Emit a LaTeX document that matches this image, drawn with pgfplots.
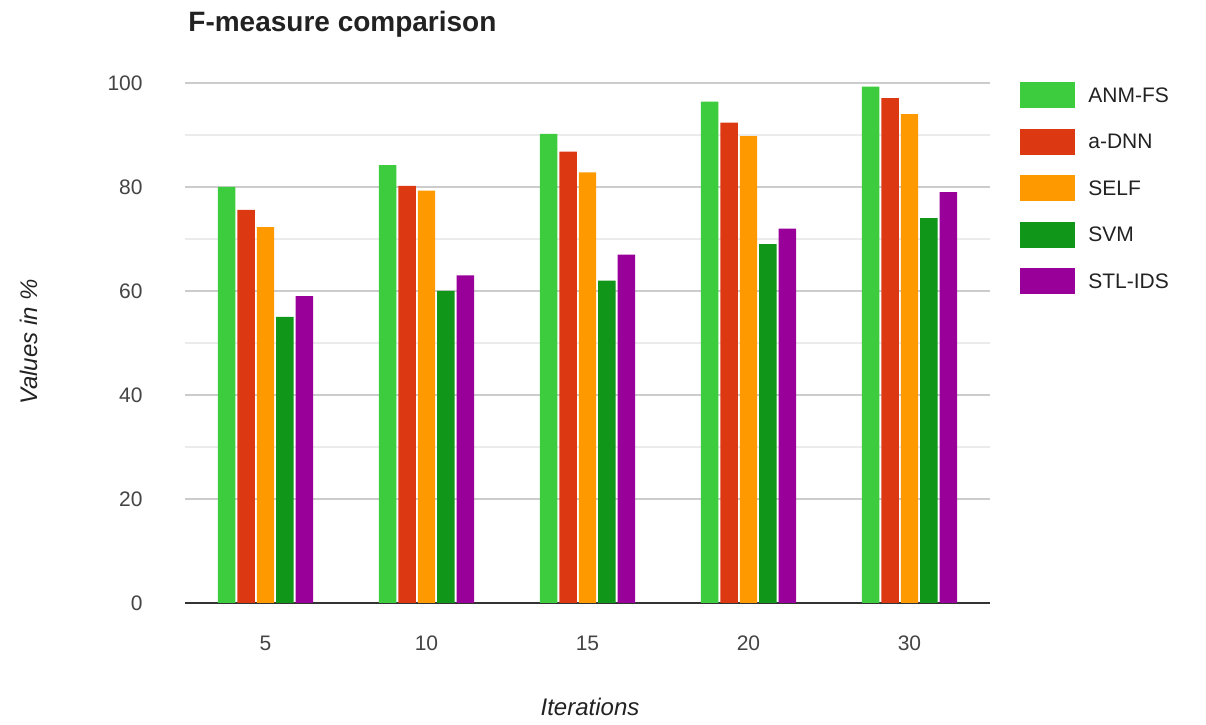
\documentclass[border=0pt]{standalone}
\usepackage{pgfplots}
\pgfplotsset{compat=1.18}
\usepackage{fontspec}
\setmainfont{Liberation Sans}

\definecolor{cANM}{HTML}{3DCC3D}
\definecolor{cDNN}{HTML}{DC3912}
\definecolor{cSELF}{HTML}{FF9900}
\definecolor{cSVM}{HTML}{109618}
\definecolor{cSTL}{HTML}{990099}
\definecolor{tickgray}{HTML}{444444}
\definecolor{labelgray}{HTML}{222222}
\definecolor{gridmajor}{HTML}{CCCCCC}
\definecolor{gridminor}{HTML}{EBEBEB}
\definecolor{baseline}{HTML}{333333}

\begin{document}
\begin{tikzpicture}
\path[use as bounding box] (0,0) rectangle (603pt,362pt);

% chart title
\node[anchor=base west, inner sep=0pt, text=labelgray, font=\fontsize{14}{16}\selectfont\bfseries]
  at (94pt,346pt) {F-measure comparison};

\begin{axis}[
  at={(92.5pt,60.5pt)}, anchor=south west,
  scale only axis, width=402.5pt, height=260pt,
  xmin=-0.5, xmax=4.5, ymin=0, ymax=100,
  ybar=1pt, bar width=8.7pt,
  axis line style={draw=none},
  tick style={draw=none},
  xtick={0,1,2,3,4},
  xticklabels={5,10,15,20,30},
  ytick={20,40,60,80,100},
  minor y tick num=1,
  ymajorgrids, yminorgrids,
  major grid style={gridmajor, line width=0.6pt},
  minor grid style={gridminor, line width=0.6pt},
  extra y ticks={0},
  extra y tick labels={0},
  extra y tick style={major grid style={draw=baseline, line width=1pt}},
  /pgf/number format/assume math mode=true,
  ticklabel style={font=\fontsize{10.5}{12}\selectfont, text=tickgray},
  yticklabel style={anchor=east, inner sep=0pt, xshift=-21pt},
  xticklabel style={anchor=north, inner sep=0pt, yshift=-12pt},
  legend style={at={(1,1)}, anchor=north west, xshift=15pt, yshift=0.5pt,
    draw=none, fill=none, inner sep=0pt, row sep=10.25pt, column sep=6.5pt,
    font=\fontsize{10.5}{12}\selectfont,
    nodes={inner sep=0pt, text=labelgray}},
  legend cell align=left,
  legend image code/.code={\fill[#1] (0pt,-6pt) rectangle (27.5pt,7pt);},
]
\addplot[fill=cANM, draw=none] coordinates {(0,80) (1,84.2) (2,90.2) (3,96.4) (4,99.3)};
\addplot[fill=cDNN, draw=none] coordinates {(0,75.6) (1,80.2) (2,86.8) (3,92.4) (4,97.1)};
\addplot[fill=cSELF, draw=none] coordinates {(0,72.3) (1,79.3) (2,82.8) (3,89.8) (4,94)};
\addplot[fill=cSVM, draw=none] coordinates {(0,55) (1,60) (2,62) (3,69) (4,74)};
\addplot[fill=cSTL, draw=none] coordinates {(0,59) (1,63) (2,67) (3,72) (4,79)};
\legend{ANM-FS, a-DNN, SELF, SVM, STL-IDS}
\end{axis}

% axis titles
\node[anchor=base, inner sep=0pt, text=labelgray, font=\fontsize{12}{14}\selectfont\itshape]
  at (295pt,4.5pt) {Iterations};
\node[anchor=base, rotate=90, inner sep=0pt, text=labelgray, font=\fontsize{12}{14}\selectfont\itshape]
  at (18.5pt,191pt) {Values in \%};
\end{tikzpicture}
\end{document}
